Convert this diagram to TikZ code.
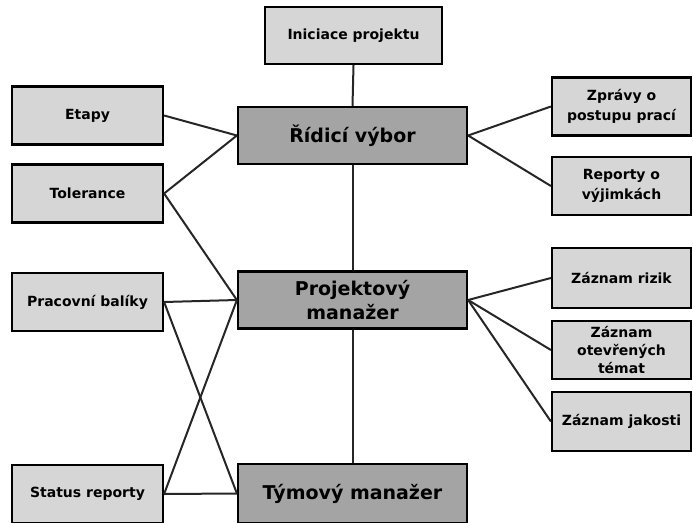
\documentclass[tikz,border=0pt]{standalone}
\usepackage{fontspec}
\setmainfont{DejaVu Sans}
\definecolor{lightfill}{HTML}{D6D6D6}
\definecolor{darkfill}{HTML}{A4A4A4}
\definecolor{linkgray}{HTML}{262626}
\begin{document}
\begin{tikzpicture}[x=1pt,y=-1pt,
  box/.style={draw=black, line width=2.2pt, fill=lightfill, align=center,
    inner sep=2pt, font=\bfseries\fontsize{14}{20}\selectfont},
  sidebox/.style={box, minimum width=151pt, minimum height=58pt},
  rightbox/.style={box, minimum width=139pt, minimum height=58pt},
  rolebox/.style={box, fill=darkfill, minimum width=229pt, minimum height=57pt,
    font=\bfseries\fontsize{19}{24}\selectfont},
  link/.style={draw=linkgray, line width=2pt}]
\useasboundingbox (0,0) rectangle (693,522);

% roles in the middle column
\node[box, minimum width=177pt, minimum height=57pt] (init) at (353.5,35.5) {Iniciace projektu};
\node[rolebox] (board) at (352.5,135.5) {Řídicí výbor};
\node[rolebox] (pm) at (352.5,300) {Projektový\\manažer};
\node[rolebox, minimum height=59pt] (tm) at (352.5,493.5) {Týmový manažer};

% left column
\node[sidebox] (stages) at (87.5,115.5) {Etapy};
\node[sidebox] (tol) at (87.5,193.5) {Tolerance};
\node[sidebox] (wp) at (87.5,302) {Pracovní balíky};
\node[sidebox] (status) at (87.5,494) {Status reporty};

% right column
\node[rightbox] (progress) at (621.5,106.5) {Zprávy o\\postupu prací};
\node[rightbox] (excep) at (621.5,186) {Reporty o\\výjimkách};
\node[rightbox, minimum height=60pt] (risk) at (621.5,278) {Záznam rizik};
\node[rightbox, font=\bfseries\fontsize{14}{18}\selectfont] (issues) at (621.5,350) {Záznam\\otevřených\\témat};
\node[rightbox, minimum height=59pt] (quality) at (621.5,421.5) {Záznam jakosti};

% vertical chain
\draw[link] (init.south) -- (board.north);
\draw[link] (board.south) -- (pm.north);
\draw[link] (pm.south) -- (tm.north);

% steering board links
\draw[link] (stages.east) -- (board.west);
\draw[link] (tol.east) -- (board.west);
\draw[link] (board.east) -- (progress.west);
\draw[link] (board.east) -- (excep.west);

% project manager links
\draw[link] (tol.east) -- (pm.west);
\draw[link] (wp.east) -- (pm.west);
\draw[link] (status.east) -- (pm.west);
\draw[link] (pm.east) -- (risk.west);
\draw[link] (pm.east) -- (issues.west);
\draw[link] (pm.east) -- (quality.west);

% team manager links
\draw[link] (wp.east) -- (tm.west);
\draw[link] (status.east) -- (tm.west);
\end{tikzpicture}
\end{document}
